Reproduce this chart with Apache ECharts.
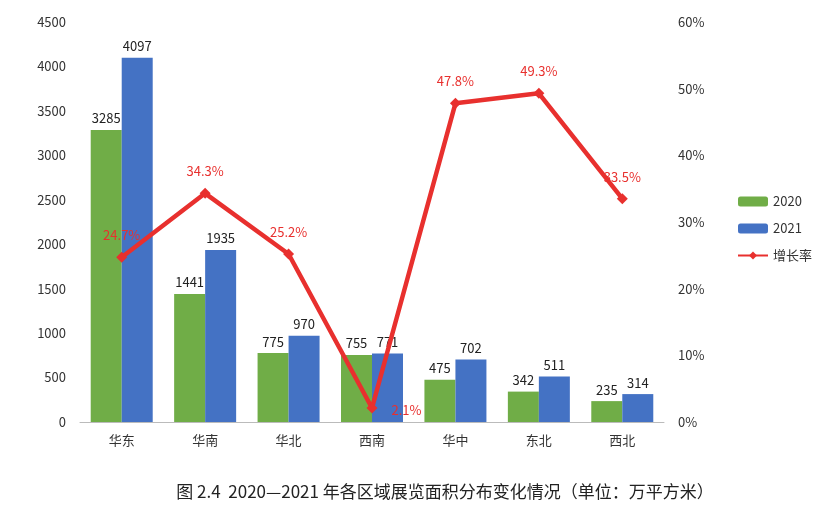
<!DOCTYPE html>
<html><head><meta charset="utf-8">
<script src="https://cdn.jsdelivr.net/npm/echarts@6/dist/echarts.min.js"></script>
<style>html,body{margin:0;background:#fff}#main{width:840px;height:512px}</style>
</head><body><div id="main"></div>
<script>
var regions = ['华东', '华南', '华北', '西南', '华中', '东北', '西北'];
var area2020 = [3285, 1441, 775, 755, 475, 342, 235];
var area2021 = [4097, 1935, 970, 771, 702, 511, 314];
var growth = [24.7, 34.3, 25.2, 2.1, 47.8, 49.3, 33.5];

var myChart = echarts.init(document.getElementById('main'));
var font = '"Noto Sans CJK SC", sans-serif';
var option = {
  backgroundColor: '#fff',
  textStyle: { fontFamily: font },
  title: {
    text: '图 2.4  2020—2021 年各区域展览面积分布变化情况（单位：万平方米）',
    left: 440, top: 478, textAlign: 'center',
    textStyle: { fontSize: 17, fontWeight: 'normal', color: '#222', fontFamily: font }
  },
  legend: {
    orient: 'vertical', left: 732, top: 190, itemGap: 14,
    itemWidth: 30, itemHeight: 10,
    textStyle: { fontSize: 13, color: '#333' },
    data: ['2020', '2021', '增长率']
  },
  grid: { left: 80, right: 176, top: 22, bottom: 90 },
  xAxis: {
    type: 'category', data: regions,
    axisLine: { lineStyle: { color: '#bbb' } },
    axisTick: { show: false },
    axisLabel: { color: '#333', fontSize: 13, margin: 12 }
  },
  yAxis: [{
    type: 'value', min: 0, max: 4500, interval: 500,
    splitLine: { show: false }, axisLine: { show: false },
    axisLabel: { color: '#333', fontSize: 13, margin: 14, formatter: function (v) { return String(v); } }
  }, {
    type: 'value', min: 0, max: 60, interval: 10,
    splitLine: { show: false }, axisLine: { show: false },
    axisLabel: { color: '#333', fontSize: 13, formatter: '{value}%', margin: 14 }
  }],
  series: [{
    name: '2020', type: 'bar', data: area2020, barWidth: 31, barGap: '0%',
    itemStyle: { color: '#70ad47' },
    label: { show: true, position: 'top', color: '#222', fontSize: 13 }
  }, {
    name: '2021', type: 'bar', data: area2021, barWidth: 31,
    itemStyle: { color: '#4472c4' },
    label: { show: true, position: 'top', color: '#222', fontSize: 13 }
  }, {
    name: '增长率', type: 'line', yAxisIndex: 1,
    symbol: 'diamond', symbolSize: 11,
    lineStyle: { color: '#e8302e', width: 4.5 },
    itemStyle: { color: '#e8302e' },
    label: {
      show: true, position: 'top', distance: 10, color: '#e8302e', fontSize: 13,
      formatter: function (p) { return p.value + '%'; }
    },
    z: 5
  }]
};
option.series[2].data = growth.map(function (v, i) {
  if (i === 3) return { value: v, label: { position: 'right', offset: [4, 2] } };
  return v;
});
myChart.setOption(option);
</script></body></html>
